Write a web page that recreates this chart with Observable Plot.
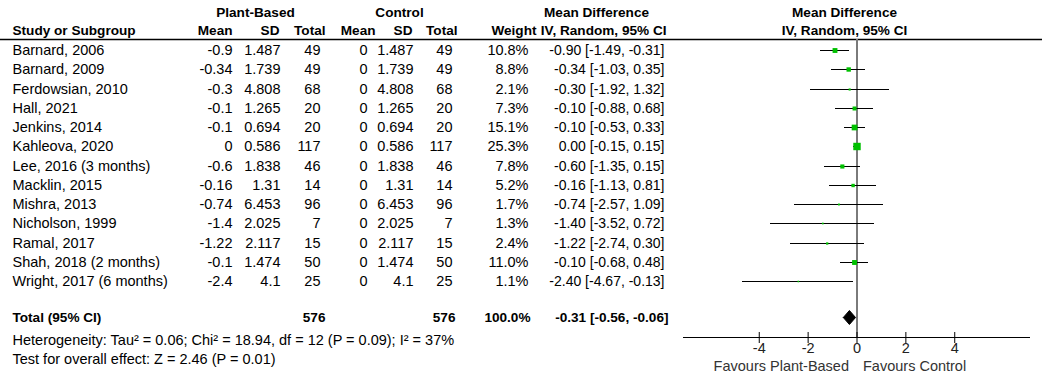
<!DOCTYPE html>
<html><head><meta charset="utf-8">
<script src="https://cdn.jsdelivr.net/npm/d3@7"></script>
<script src="https://cdn.jsdelivr.net/npm/@observablehq/plot@0.6"></script>
<style>
html,body{margin:0;padding:0;background:#fff;}
#chart{width:1042px;height:384px;}
</style>
</head><body><div id="chart"></div>
<script>
// ---------------- data ----------------
const studies = ["Barnard, 2006","Barnard, 2009","Ferdowsian, 2010","Hall, 2021","Jenkins, 2014","Kahleova, 2020","Lee, 2016 (3 months)","Macklin, 2015","Mishra, 2013","Nicholson, 1999","Ramal, 2017","Shah, 2018 (2 months)","Wright, 2017 (6 months)"];
const pbMean  = [-0.9, -0.34, -0.3, -0.1, -0.1, 0, -0.6, -0.16, -0.74, -1.4, -1.22, -0.1, -2.4];
const pbSD    = ["1.487","1.739","4.808","1.265","0.694","0.586","1.838","1.31","6.453","2.025","2.117","1.474","4.1"];
const pbN     = [49, 49, 68, 20, 20, 117, 46, 14, 96, 7, 15, 50, 25];
const ctMean  = [0,0,0,0,0,0,0,0,0,0,0,0,0];
const ctSD    = ["1.487","1.739","4.808","1.265","0.694","0.586","1.838","1.31","6.453","2.025","2.117","1.474","4.1"];
const ctN     = [49, 49, 68, 20, 20, 117, 46, 14, 96, 7, 15, 50, 25];
const weight  = [10.8, 8.8, 2.1, 7.3, 15.1, 25.3, 7.8, 5.2, 1.7, 1.3, 2.4, 11.0, 1.1];
const md      = [-0.90, -0.34, -0.30, -0.10, -0.10, 0.00, -0.60, -0.16, -0.74, -1.40, -1.22, -0.10, -2.40];
const ciLo    = [-1.49, -1.03, -1.92, -0.88, -0.53, -0.15, -1.35, -1.13, -2.57, -3.52, -2.74, -0.68, -4.67];
const ciHi    = [-0.31, 0.35, 1.32, 0.68, 0.33, 0.15, 0.15, 0.81, 1.09, 0.72, 0.30, 0.48, -0.13];

const totalLabel = "Total (95% CI)";
const totalPbN = 576, totalCtN = 576, totalWeight = 100.0;
const totalMD = -0.31, totalLo = -0.56, totalHi = -0.06;

const heterogeneity = "Heterogeneity: Tau\u00B2 = 0.06; Chi\u00B2 = 18.94, df = 12 (P = 0.09); I\u00B2 = 37%";
const overallTest = "Test for overall effect: Z = 2.46 (P = 0.01)";

const groupHeaders = ["Plant-Based", "Control", "Mean Difference", "Mean Difference"];
const colHeaders = ["Study or Subgroup","Mean","SD","Total","Mean","SD","Total","Weight","IV, Random, 95% CI","IV, Random, 95% CI"];
const xTicks = [-4, -2, 0, 2, 4];
const favoursLeft = "Favours Plant-Based";
const favoursRight = "Favours Control";

// ---------------- layout ----------------
const W = 1042, H = 384;
const ML = 683, MR = 12, MT = 39, MB = 47;
const FONT = "'Liberation Sans', Arial, Helvetica, sans-serif";
const FS = 14.5, FSB = 13.6, FSN = 14;
const TOTAL_ROW = 13.87, HET_ROW = 15.07, TEST_ROW = 16.05, AXIS_ROW = 14.91, RULE_ROW = -0.57;
const H1 = -2, H2 = -1.02;

const rows = studies.map((s, i) => ({
  i, s, pm: pbMean[i], psd: pbSD[i], pn: pbN[i], cm: ctMean[i], csd: ctSD[i], cn: ctN[i],
  w: weight[i], md: md[i], lo: ciLo[i], hi: ciHi[i]
}));
const fmt2 = v => v.toFixed(2);
const mdText = (m, l, h) => `${fmt2(m)} [${fmt2(l)}, ${fmt2(h)}]`;

const col = (text, right, anchor = "end", opts = {}) =>
  Plot.text(rows, {y: "i", text, frameAnchor: "left", dx: right - ML, textAnchor: anchor, fontSize: FS, fill: "#000", ...opts});
const label = (str, row, xpx, anchor, opts = {}) =>
  Plot.text([str], {y: [row], text: d => d, frameAnchor: "left", dx: xpx - ML, textAnchor: anchor, fontSize: FS, fill: "#000", ...opts});
const bold = {fontWeight: "bold", fontSize: FSB};

// diamond polygon (in data units)
const dh = 0.37;
const diamond = [
  {x: totalLo, y: TOTAL_ROW}, {x: totalMD, y: TOTAL_ROW - dh},
  {x: totalHi, y: TOTAL_ROW}, {x: totalMD, y: TOTAL_ROW + dh}, {x: totalLo, y: TOTAL_ROW}
];

const chart = Plot.plot({
  width: W, height: H,
  marginLeft: ML, marginRight: MR, marginTop: MT, marginBottom: MB,
  style: {fontFamily: FONT, fontSize: FS + "px", background: "#fff", color: "#000"},
  x: {domain: [-7.1, 7.1]},
  y: {domain: [0, 12], range: [50, 281], round: true, axis: null},
  r: {type: "sqrt", domain: [0, 25.3], range: [0, 4.2]},
  marks: [
    // header rule across whole width
    Plot.ruleY([RULE_ROW], {insetLeft: -ML, insetRight: -MR, stroke: "#000", strokeWidth: 1.5}),
    // zero line
    Plot.ruleX([0], {stroke: "#7a7a7a", strokeWidth: 2}),
    // axis line and ticks
    Plot.ruleY([AXIS_ROW], {stroke: "#000", strokeWidth: 1, shapeRendering: "crispEdges"}),
    Plot.axisX({ticks: xTicks, tickFormat: d => String(d), tickSize: 11, tickPadding: -1, dy: -5, label: null, fontSize: FS, fill: "#222"}),
    // CIs and squares
    Plot.ruleY(rows, {y: "i", x1: "lo", x2: "hi", stroke: "#000", strokeWidth: 1, shapeRendering: "crispEdges"}),
    Plot.dot(rows, {x: "md", y: "i", r: "w", symbol: "square", fill: "#00c000", stroke: null}),
    // diamond
    Plot.line(diamond, {x: "x", y: "y", fill: "#000", stroke: "#000", strokeWidth: 1}),
    // group headers
    label(groupHeaders[0], H1, 255, "middle", bold),
    label(groupHeaders[1], H1, 399, "middle", bold),
    label(groupHeaders[2], H1, 596, "middle", bold),
    label(groupHeaders[3], H1, 844, "middle", bold),
    // column headers
    label(colHeaders[0], H2, 12, "start", bold),
    label(colHeaders[1], H2, 232, "end", bold),
    label(colHeaders[2], H2, 279, "end", bold),
    label(colHeaders[3], H2, 325, "end", bold),
    label(colHeaders[4], H2, 375, "end", bold),
    label(colHeaders[5], H2, 412, "end", bold),
    label(colHeaders[6], H2, 457, "end", bold),
    label(colHeaders[7], H2, 536, "end", bold),
    label(colHeaders[8], H2, 666, "end", bold),
    label(colHeaders[9], H2, 844, "middle", bold),
    // table body
    col("s", 12, "start"),
    col(d => String(d.pm), 232),
    col("psd", 280),
    col(d => String(d.pn), 320),
    col(d => String(d.cm), 367),
    col("csd", 413),
    col(d => String(d.cn), 452),
    col(d => d.w.toFixed(1) + "%", 528),
    col(d => mdText(d.md, d.lo, d.hi), 664, "end", {fontSize: FSN}),
    // total row
    label(totalLabel, TOTAL_ROW, 12, "start", bold),
    label(String(totalPbN), TOTAL_ROW, 325, "end", bold),
    label(String(totalCtN), TOTAL_ROW, 455, "end", bold),
    label(totalWeight.toFixed(1) + "%", TOTAL_ROW, 530, "end", bold),
    label(mdText(totalMD, totalLo, totalHi), TOTAL_ROW, 668, "end", bold),
    // footnotes
    label(heterogeneity, HET_ROW, 12, "start", {fontSize: 14.5}),
    label(overallTest, TEST_ROW, 12, "start", {fontSize: 14.5}),
    // favours labels
    Plot.text([favoursLeft], {x: [0], text: d => d, frameAnchor: "bottom", lineAnchor: "middle", dy: 29, dx: -8, textAnchor: "end", fontSize: FS, fill: "#333"}),
    Plot.text([favoursRight], {x: [0], text: d => d, frameAnchor: "bottom", lineAnchor: "middle", dy: 29, dx: 6, textAnchor: "start", fontSize: FS, fill: "#333"})
  ]
});
document.getElementById("chart").appendChild(chart);
</script>
</body></html>
